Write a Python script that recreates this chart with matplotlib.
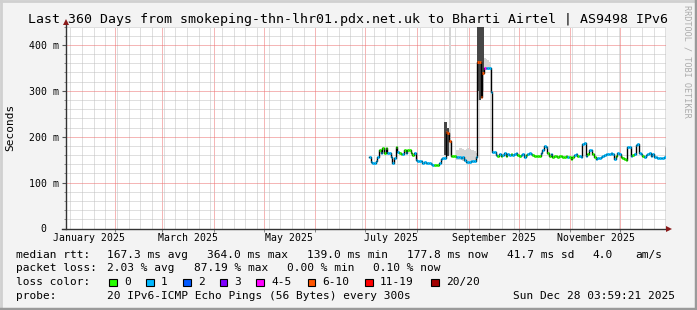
import datetime as dt
import matplotlib
matplotlib.use("Agg")
import matplotlib.pyplot as plt
import matplotlib.dates as mdates
from matplotlib.ticker import MultipleLocator, FuncFormatter, NullFormatter
from matplotlib.patches import Rectangle
from matplotlib.lines import Line2D
import numpy as np

# ---- data -------------------------------------------------------------
start = dt.datetime(2025, 1, 2, 3, 59, 21)
end = dt.datetime(2025, 12, 28, 3, 59, 21)

first_day = 182  # days after start of first median sample
median_ms = [155, 145, 142, 143, 147, 156, 172, 165, 175, 164, 175, 164, 164, 156, 142, 153,
             178, 167, 165, 162, 163, 171, 164, 171, 172, 164, 160, 164, 149, 148, 148, 148,
             143, 145, 143, 142, 142, 141, 138, 138, 138, 139, 143, 151, 153, 153, 210, 207,
             190, 158, 158, 158, 156, 155, 155, 154, 155, 150, 145, 145, 145, 146, 147, 148,
             156, 362, 362, 287, 339, 350, 349, 349, 349, 298, 167, 167, 160, 158, 162, 158,
             160, 164, 158, 162, 160, 162, 160, 162, 164, 160, 158, 160, 162, 156, 160, 162,
             164, 162, 160, 158, 158, 158, 158, 164, 171, 180, 177, 164, 158, 162, 156, 158,
             158, 156, 158, 158, 156, 156, 158, 156, 155, 151, 156, 160, 162, 158, 158, 156,
             184, 187, 158, 162, 171, 170, 162, 156, 151, 153, 153, 156, 158, 160, 162, 162,
             162, 164, 162, 151, 158, 165, 162, 156, 153, 151, 149, 178, 177, 158, 160, 162,
             182, 184, 165, 162, 158, 156, 160, 162, 164, 158, 162, 155, 155, 153, 153, 153,
             153, 156, 178]
loss_idx = [1, 1, 1, 1, 1, 1, 0, 1, 0, 0, 0, 1, 1, 1, 1, 1,
            0, 1, 0, 0, 1, 0, 1, 0, 0, 0, 0, 1, 1, 1, 1, 1,
            1, 1, 1, 1, 1, 1, 1, 0, 0, 0, 1, 1, 1, 1, 5, 5,
            5, 0, 0, 0, 1, 1, 1, 1, 1, 1, 1, 1, 1, 1, 1, 1,
            1, 5, 5, 5, 5, 4, 1, 1, 1, 1, 1, 1, 1, 0, 1, 0,
            1, 1, 0, 1, 1, 0, 1, 1, 1, 0, 0, 1, 1, 1, 0, 1,
            1, 1, 0, 0, 0, 0, 0, 1, 1, 1, 1, 0, 0, 1, 0, 0,
            0, 0, 0, 0, 0, 0, 0, 1, 0, 0, 0, 1, 1, 0, 1, 1,
            1, 1, 1, 0, 1, 1, 0, 0, 1, 1, 1, 1, 1, 1, 1, 1,
            1, 1, 1, 1, 0, 1, 1, 0, 0, 0, 0, 1, 1, 1, 0, 1,
            1, 1, 1, 1, 0, 1, 1, 1, 1, 1, 1, 1, 1, 1, 1, 1,
            1, 1, 1]

# smoke (ping spread) around the two loss events: day, low, high
smoke_light_day = [230, 234, 235, 236, 237, 238, 239, 240, 241, 242, 243, 244, 245, 246,
                   247, 248, 249, 250, 251, 252, 253, 254]
smoke_light_lo = [160, 150, 150, 150, 150, 148, 144, 144, 144, 145, 146, 147, 148, 150,
                  280, 280, 290, 300, 345, 345, 345, 348]
smoke_light_hi = [440, 170, 172, 176, 175, 174, 172, 173, 175, 174, 172, 170, 168, 165,
                  440, 440, 440, 440, 372, 370, 368, 362]
smoke_dark_day = [227, 228, 229, 247, 248, 249, 250]
smoke_dark_lo = [160, 165, 158, 300, 280, 300, 335]
smoke_dark_hi = [233, 233, 220, 440, 440, 440, 440]

loss_labels = ["0", "1", "2", "3", "4-5", "6-10", "11-19", "20/20"]
loss_colors = ["#26ff00", "#00b8ff", "#0059ff", "#7e00ff", "#ff00ff", "#ff5500", "#ff0000", "#a10000"]

title = "Last 360 Days from smokeping-thn-lhr01.pdx.net.uk to Bharti Airtel | AS9498 IPv6"
rtt_stats = ["167.3 ms avg", "364.0 ms max", "139.0 ms min", "177.8 ms now", "41.7 ms sd", "4.0", "am/s"]
loss_stats = ["2.03 % avg", "87.19 % max", "0.00 % min", "0.10 % now"]
probe_text = "20 IPv6-ICMP Echo Pings (56 Bytes) every 300s"
stamp = "Sun Dec 28 03:59:21 2025"

# ---- figure -----------------------------------------------------------
W, H = 697, 310
MONO = "DejaVu Sans Mono"
plt.rcParams["font.family"] = MONO

fig = plt.figure(figsize=(W / 100, H / 100), dpi=100, facecolor="#f3f3f3")


def fx(x):
    return x / W


def fy(y):
    return 1 - y / H


x0, x1, y_top, y_bot = 65.5, 665.5, 26.5, 228.5
ax = fig.add_axes([fx(x0), fy(y_bot), (x1 - x0) / W, (y_bot - y_top) / H])
ax.set_facecolor("white")

t = np.array([start + dt.timedelta(days=first_day + i) for i in range(len(median_ms) + 1)])
tn = mdates.date2num(t)
vals = np.array(median_ms, dtype=float)


def day_num(d):
    return mdates.date2num(start + dt.timedelta(days=d))


# smoke
for days, lo, hi, col in [(smoke_light_day, smoke_light_lo, smoke_light_hi, "#d4d4d4"),
                          (smoke_dark_day, smoke_dark_lo, smoke_dark_hi, "#474747")]:
    for d, l, h in zip(days, lo, hi):
        ax.fill_between([day_num(d), day_num(d + 1)], l, h, color=col, lw=0, zorder=2)

# median: black step connectors, then coloured loss segments
ax.step(tn, np.append(vals, vals[-1]), where="post", color="black", lw=1.0, zorder=3)
ax.hlines(vals, tn[:-1], tn[1:], colors=[loss_colors[i] for i in loss_idx], lw=2.0, zorder=4)

ax.set_xlim(mdates.date2num(start), mdates.date2num(end))
ax.set_ylim(0, 440)

# grid
ax.xaxis.set_major_locator(mdates.MonthLocator())
ax.xaxis.set_major_formatter(NullFormatter())
ax.xaxis.set_minor_locator(mdates.WeekdayLocator(byweekday=mdates.SU))
ax.yaxis.set_major_locator(MultipleLocator(100))
ax.yaxis.set_minor_locator(MultipleLocator(20))
ax.yaxis.set_major_formatter(FuncFormatter(lambda v, p: "0  " if v == 0 else f"{v:.0f} m"))
ax.grid(which="minor", color="#c0c0c0", lw=0.72, ls=(0, (1, 1)))
ax.grid(which="major", color="#ec6f6f", lw=0.72, ls=(0, (1, 1)))
ax.set_axisbelow(True)

for s in ax.spines.values():
    s.set_visible(False)
ax.tick_params(axis="y", which="major", length=3, width=0.8, color="#555555", pad=2,
               labelsize=7.1)
ax.tick_params(axis="y", which="minor", length=1.5, width=0.6, color="#777777")
ax.tick_params(axis="x", which="major", length=2, width=0.6, color="#777777")
ax.tick_params(axis="x", which="minor", length=0)

# month labels centred mid-month
for m in [1, 3, 5, 7, 9, 11]:
    md = dt.datetime(2025, m, 16, 12)
    ax.text(mdates.date2num(md), -0.045, md.strftime("%B %Y"), transform=ax.get_xaxis_transform(),
            ha="center", va="center", fontsize=7.1, family=MONO)

# axis lines with arrows
fig.add_artist(Line2D([fx(x0 + 0.5), fx(x0 + 0.5)], [fy(y_bot), fy(22)], color="#333333", lw=1))
fig.add_artist(Line2D([fx(62), fx(668)], [fy(y_bot), fy(y_bot)], color="#333333", lw=1))
fig.add_artist(Line2D([fx(x0 + 0.5)], [fy(22)], marker="^", ms=5, color="#8b1a1a", mew=0))
fig.add_artist(Line2D([fx(669)], [fy(y_bot)], marker=">", ms=5, color="#8b1a1a", mew=0))

# texts
fig.text(fx(348), fy(19), title, ha="center", va="center", fontsize=9.5, family=MONO)
fig.text(fx(10), fy(127.5), "Seconds", rotation=90, ha="center", va="center", fontsize=8,
         family=MONO)
fig.text(fx(687), fy(5), "RRDTOOL / TOBI OETIKER", rotation=270, ha="center", va="top",
         fontsize=6.1, color="#ababab", family=MONO)

row_y = [255, 268.3, 282, 295.7]
fs = 8
fig.text(fx(16), fy(row_y[0]), "median rtt:", va="center", fontsize=fs)
for s, x in zip(rtt_stats, [107, 207, 307, 407, 507, 592, 635]):
    fig.text(fx(x), fy(row_y[0]), s, va="center", fontsize=fs)

fig.text(fx(16), fy(row_y[1]), "packet loss:", va="center", fontsize=fs)
for s, x in zip(loss_stats, [107, 194, 287, 373]):
    fig.text(fx(x), fy(row_y[1]), s, va="center", fontsize=fs)

fig.text(fx(16), fy(row_y[2]), "loss color:", va="center", fontsize=fs)
box_x = [109, 146, 183, 219.5, 256, 307.5, 365, 431]
for lab, col, bx in zip(loss_labels, loss_colors, box_x):
    fig.add_artist(Rectangle((fx(bx), fy(row_y[2] + 4)), 7.5 / W, 7.5 / H, facecolor=col,
                             edgecolor="black", lw=0.8, transform=fig.transFigure))
    fig.text(fx(bx + 15), fy(row_y[2]), lab, va="center", fontsize=fs)

fig.text(fx(16), fy(row_y[3]), "probe:", va="center", fontsize=fs)
fig.text(fx(107), fy(row_y[3]), probe_text, va="center", fontsize=fs)
fig.text(fx(513), fy(row_y[3]), stamp, va="center", fontsize=fs)

# bevelled border
fig.add_artist(Line2D([0, 1], [fy(0.5), fy(0.5)], color="#d0d0d0", lw=2))
fig.add_artist(Line2D([fx(0.5), fx(0.5)], [0, 1], color="#d0d0d0", lw=2))
fig.add_artist(Line2D([0, 1], [fy(309), fy(309)], color="#9a9a9a", lw=2.5))
fig.add_artist(Line2D([fx(696), fx(696)], [0, 1], color="#9a9a9a", lw=2.5))

fig.savefig("out.png", dpi=100, facecolor=fig.get_facecolor())
